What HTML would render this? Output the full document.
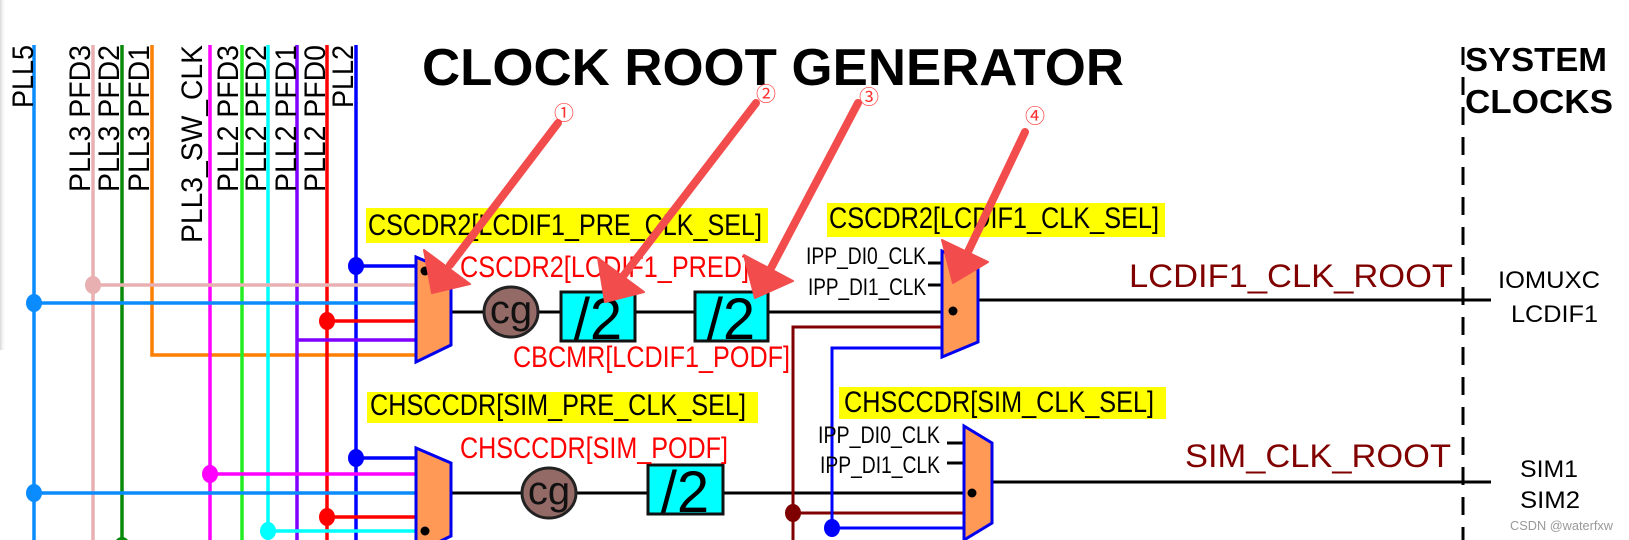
<!DOCTYPE html>
<html><head><meta charset="utf-8"><style>
html,body{margin:0;padding:0;background:#fff;}
svg{display:block;}
text{font-family:"Liberation Sans",Arial,sans-serif;}
</style></head><body>
<svg width="1629" height="540" viewBox="0 0 1629 540" xmlns="http://www.w3.org/2000/svg">
<defs>
<linearGradient id="sh" x1="0" x2="1" y1="0" y2="0"><stop offset="0" stop-color="#d8d8d8"/><stop offset="1" stop-color="#fff" stop-opacity="0"/></linearGradient>
</defs>
<rect x="0" y="0" width="6" height="350" fill="url(#sh)"/>

<g stroke-width="3.5" fill="none">
<line x1="34" y1="45" x2="34" y2="540" stroke="#0a8cff"/>
<line x1="93" y1="45" x2="93" y2="540" stroke="#e8b0b0"/>
<line x1="122" y1="45" x2="122" y2="540" stroke="#0a8a0a"/>
<polyline points="152,45 152,355 416,355" stroke="#ff7f00"/>
<line x1="210" y1="45" x2="210" y2="540" stroke="#ff00ff"/>
<line x1="242" y1="45" x2="242" y2="540" stroke="#22ee22"/>
<line x1="268" y1="45" x2="268" y2="540" stroke="#00ffff"/>
<line x1="297" y1="45" x2="297" y2="540" stroke="#7f00ff"/>
<line x1="327" y1="45" x2="327" y2="540" stroke="#ff0000"/>
<line x1="356" y1="45" x2="356" y2="540" stroke="#0000ff"/>
<line x1="356" y1="266" x2="416" y2="266" stroke="#0000ff"/>
<line x1="93" y1="285" x2="416" y2="285" stroke="#e8b0b0"/>
<line x1="34" y1="303" x2="416" y2="303" stroke="#0a8cff"/>
<line x1="327" y1="321" x2="416" y2="321" stroke="#ff0000"/>
<line x1="297" y1="340" x2="416" y2="340" stroke="#7f00ff"/>
<line x1="356" y1="458" x2="416" y2="458" stroke="#0000ff"/>
<line x1="210" y1="474" x2="416" y2="474" stroke="#ff00ff"/>
<line x1="34" y1="493" x2="416" y2="493" stroke="#0a8cff"/>
<line x1="327" y1="517" x2="416" y2="517" stroke="#ff0000"/>
<line x1="268" y1="531" x2="416" y2="531" stroke="#00ffff"/>
</g>
<g>
<ellipse cx="356" cy="266" rx="8" ry="9" fill="#0000ff"/>
<ellipse cx="93" cy="285" rx="8" ry="9" fill="#e8b0b0"/>
<ellipse cx="34" cy="303" rx="8" ry="9" fill="#0a8cff"/>
<ellipse cx="327" cy="321" rx="8" ry="9" fill="#ff0000"/>
<ellipse cx="356" cy="458" rx="8" ry="9" fill="#0000ff"/>
<ellipse cx="210" cy="474" rx="8" ry="9" fill="#ff00ff"/>
<ellipse cx="34" cy="493" rx="8" ry="9" fill="#0a8cff"/>
<ellipse cx="327" cy="517" rx="8" ry="9" fill="#ff0000"/>
<ellipse cx="268" cy="531" rx="8" ry="9" fill="#00ffff"/>
<ellipse cx="122" cy="546" rx="8" ry="9" fill="#0a8a0a"/>
</g>

<g font-size="30" fill="#000">
<text transform="translate(33,108) rotate(-90)" textLength="63" lengthAdjust="spacingAndGlyphs">PLL5</text>
<text transform="translate(90,192) rotate(-90)" textLength="147" lengthAdjust="spacingAndGlyphs">PLL3 PFD3</text>
<text transform="translate(119,192) rotate(-90)" textLength="147" lengthAdjust="spacingAndGlyphs">PLL3 PFD2</text>
<text transform="translate(149,192) rotate(-90)" textLength="147" lengthAdjust="spacingAndGlyphs">PLL3 PFD1</text>
<text transform="translate(202,243) rotate(-90)" textLength="198" lengthAdjust="spacingAndGlyphs">PLL3_SW_CLK</text>
<text transform="translate(238,192) rotate(-90)" textLength="147" lengthAdjust="spacingAndGlyphs">PLL2 PFD3</text>
<text transform="translate(266,192) rotate(-90)" textLength="147" lengthAdjust="spacingAndGlyphs">PLL2 PFD2</text>
<text transform="translate(296,192) rotate(-90)" textLength="147" lengthAdjust="spacingAndGlyphs">PLL2 PFD1</text>
<text transform="translate(325,192) rotate(-90)" textLength="147" lengthAdjust="spacingAndGlyphs">PLL2 PFD0</text>
<text transform="translate(353,108) rotate(-90)" textLength="63" lengthAdjust="spacingAndGlyphs">PLL2</text>
</g>

<text x="422" y="85" font-size="52" font-weight="bold" textLength="702" lengthAdjust="spacingAndGlyphs">CLOCK ROOT GENERATOR</text>
<text x="1465" y="71" font-size="33" font-weight="bold" textLength="142" lengthAdjust="spacingAndGlyphs">SYSTEM</text>
<text x="1465" y="113" font-size="33" font-weight="bold" textLength="148" lengthAdjust="spacingAndGlyphs">CLOCKS</text>
<line x1="1463" y1="47" x2="1463" y2="540" stroke="#000" stroke-width="3" stroke-dasharray="18,12"/>

<g stroke="#000" stroke-width="3" fill="none">
<line x1="451" y1="312" x2="942" y2="312"/>
<line x1="451" y1="493" x2="964" y2="493"/>
<line x1="978" y1="300" x2="1491" y2="300"/>
<line x1="992" y1="482" x2="1491" y2="482"/>
<line x1="928" y1="263" x2="942" y2="263"/>
<line x1="928" y1="285" x2="942" y2="285"/>
<line x1="947" y1="443" x2="964" y2="443"/>
<line x1="947" y1="463" x2="964" y2="463"/>
</g>
<g stroke-width="3" fill="none">
<polyline points="942,327 793,327 793,540" stroke="#7f0000"/>
<line x1="793" y1="513" x2="964" y2="513" stroke="#7f0000"/>
<polyline points="942,348 832,348 832,528 964,528" stroke="#0000ff"/>
</g>
<ellipse cx="793" cy="513" rx="8" ry="9" fill="#7f0000"/>
<ellipse cx="832" cy="528" rx="8" ry="9" fill="#0000ff"/>

<g fill="#ff9955" stroke="#0000ee" stroke-width="3">
<polygon points="416,257 451,272 451,345 416,362"/>
<polygon points="416,448 451,463 451,536 416,553"/>
<polygon points="942,251 978,267 978,342 942,357"/>
<polygon points="964,426 992,443 992,523 964,540"/>
</g>
<circle cx="425" cy="271" r="4.5" fill="#000"/>
<circle cx="425" cy="531" r="4.5" fill="#000"/>
<circle cx="953" cy="311" r="4.5" fill="#000"/>
<circle cx="972" cy="493" r="4.5" fill="#000"/>

<g fill="#946a66" stroke="#222" stroke-width="3">
<ellipse cx="511" cy="312" rx="27" ry="25"/>
<ellipse cx="549" cy="493" rx="27" ry="25"/>
</g>
<text x="511" y="323" font-size="40" text-anchor="middle" fill="#111">cg</text>
<text x="549" y="504" font-size="40" text-anchor="middle" fill="#111">cg</text>

<g fill="#00ffff" stroke="#111" stroke-width="3">
<rect x="561" y="292" width="74" height="49"/>
<rect x="695" y="292" width="73" height="49"/>
<rect x="648" y="465" width="75" height="49"/>
</g>
<g font-size="58" fill="#000" text-anchor="middle">
<text x="598" y="339">/2</text>
<text x="731" y="339">/2</text>
<text x="685" y="512">/2</text>
</g>

<g fill="#ffff00">
<rect x="366" y="208" width="402" height="35"/>
<rect x="367" y="392" width="391" height="31"/>
<rect x="827" y="203" width="338" height="34"/>
<rect x="839" y="387" width="327" height="32"/>
</g>
<g font-size="30" fill="#000">
<text x="368" y="235" textLength="394" lengthAdjust="spacingAndGlyphs">CSCDR2[LCDIF1_PRE_CLK_SEL]</text>
<text x="370" y="415" textLength="376" lengthAdjust="spacingAndGlyphs">CHSCCDR[SIM_PRE_CLK_SEL]</text>
<text x="829" y="228" textLength="330" lengthAdjust="spacingAndGlyphs">CSCDR2[LCDIF1_CLK_SEL]</text>
<text x="844" y="412" textLength="310" lengthAdjust="spacingAndGlyphs">CHSCCDR[SIM_CLK_SEL]</text>
</g>
<g font-size="30" fill="#ff0000">
<text x="460" y="277" textLength="289" lengthAdjust="spacingAndGlyphs">CSCDR2[LCDIF1_PRED]</text>
<text x="513" y="367" textLength="277" lengthAdjust="spacingAndGlyphs">CBCMR[LCDIF1_PODF]</text>
<text x="460" y="458" textLength="268" lengthAdjust="spacingAndGlyphs">CHSCCDR[SIM_PODF]</text>
</g>
<g font-size="24" fill="#000">
<text x="806" y="264" textLength="120" lengthAdjust="spacingAndGlyphs">IPP_DI0_CLK</text>
<text x="808" y="295" textLength="118" lengthAdjust="spacingAndGlyphs">IPP_DI1_CLK</text>
<text x="818" y="443" textLength="122" lengthAdjust="spacingAndGlyphs">IPP_DI0_CLK</text>
<text x="820" y="473" textLength="120" lengthAdjust="spacingAndGlyphs">IPP_DI1_CLK</text>
</g>

<g font-size="32" fill="#800000">
<text x="1129" y="287" textLength="324" lengthAdjust="spacingAndGlyphs">LCDIF1_CLK_ROOT</text>
<text x="1185" y="467" textLength="266" lengthAdjust="spacingAndGlyphs">SIM_CLK_ROOT</text>
</g>
<g font-size="24" fill="#000">
<text x="1498" y="288" textLength="102" lengthAdjust="spacingAndGlyphs">IOMUXC</text>
<text x="1511" y="322" textLength="87" lengthAdjust="spacingAndGlyphs">LCDIF1</text>
<text x="1520" y="477" textLength="58" lengthAdjust="spacingAndGlyphs">SIM1</text>
<text x="1520" y="508" textLength="60" lengthAdjust="spacingAndGlyphs">SIM2</text>
</g>
<text x="1510" y="530" font-size="13" fill="#999" textLength="103" lengthAdjust="spacingAndGlyphs">CSDN @waterfxw</text>

<g stroke="#f24c4c" stroke-width="8" stroke-linecap="round" fill="none">
<line x1="558" y1="123" x2="450" y2="265"/>
<line x1="756" y1="103" x2="624" y2="275"/>
<line x1="858" y1="103" x2="770" y2="270"/>
<line x1="1025" y1="132" x2="966" y2="256"/>
</g>
<g fill="#f24c4c" stroke="#f24c4c" stroke-width="2" stroke-linejoin="round">
<polygon points="432,293 424,250 470,284"/>
<polygon points="605,302 598,258 644,292"/>
<polygon points="755,298 744,255 793,281"/>
<polygon points="953,283 942,240 988,262"/>
</g>
<g font-size="20" fill="#ff3030" text-anchor="middle" font-family="'Noto Sans CJK SC',sans-serif">
<text x="564" y="120" style="font-family:'Noto Sans CJK SC',sans-serif">①</text>
<text x="766" y="101" style="font-family:'Noto Sans CJK SC',sans-serif">②</text>
<text x="869" y="104" style="font-family:'Noto Sans CJK SC',sans-serif">③</text>
<text x="1035" y="123" style="font-family:'Noto Sans CJK SC',sans-serif">④</text>
</g>
</svg>
</body></html>
